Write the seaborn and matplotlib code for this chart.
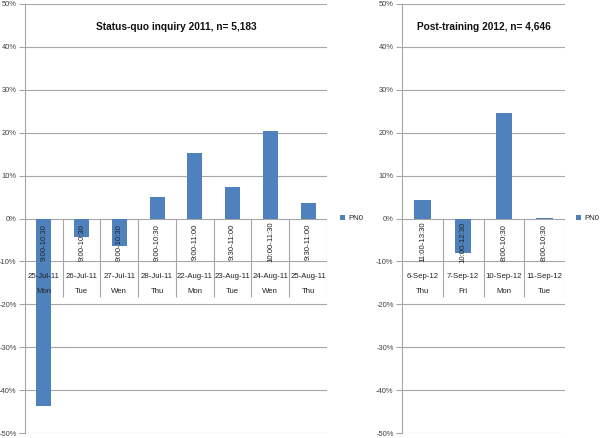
import numpy as np
import pandas as pd
import matplotlib
matplotlib.use("Agg")
import matplotlib.pyplot as plt
import seaborn as sns

# ---- data ----
dates_2011 = ["25-Jul-11", "26-Jul-11", "27-Jul-11", "28-Jul-11",
              "22-Aug-11", "23-Aug-11", "24-Aug-11", "25-Aug-11"]
days_2011 = ["Mon", "Tue", "Wen", "Thu", "Mon", "Tue", "Wen", "Thu"]
times_2011 = ["9:00-10:30", "9:00-10:30", "9:00-10:30", "9:00-10:30",
              "9:00-11:00", "9:30-11:00", "10:00-11:30", "9:30-11:00"]
pn0_2011 = [-43.8, -4.3, -6.3, 5.0, 15.2, 7.4, 20.5, 3.5]

dates_2012 = ["6-Sep-12", "7-Sep-12", "10-Sep-12", "11-Sep-12"]
days_2012 = ["Thu", "Fri", "Mon", "Tue"]
times_2012 = ["11:00-13:30", "10:00-12:30", "8:00-10:30", "8:00-10:30"]
pn0_2012 = [4.3, -8.1, 24.7, 0.2]

titles = ["Status-quo inquiry 2011, n= 5,183", "Post-training 2012, n= 4,646"]
yticks = [50, 40, 30, 20, 10, 0, -10, -20, -30, -40, -50]
series_name = "PN0"

sns.set_theme(style="white")
plt.rcParams['font.family'] = ['Liberation Sans', 'DejaVu Sans']

W, H = 600, 438
fig = plt.figure(figsize=(W / 100, H / 100), dpi=100)

BAR = "#4F81BD"
GRID = "#a6a6a6"
FS = 5.6

def panel(rect_px, dates, days, times, vals, title, legend_x_px):
    l, r, t, b = rect_px
    ax = fig.add_axes([l / W, 1 - b / H, (r - l) / W, (b - t) / H])
    df = pd.DataFrame({"date": dates, "val": vals})
    sns.barplot(data=df, x="date", y="val", color=BAR, width=0.4,
                saturation=1, ax=ax, label=series_name, linewidth=0)
    n = len(dates)
    ax.set_xlim(-0.5, n - 0.5)
    ax.set_ylim(-50, 50)
    ax.set_yticks(yticks)
    ax.set_yticklabels([f"{v}%" for v in yticks], fontsize=5.4, color="#404040")
    ax.set_xticks([])
    ax.set_xlabel("")
    ax.set_ylabel("")
    for s in ["top", "right", "bottom"]:
        ax.spines[s].set_visible(False)
    ax.spines["left"].set_color(GRID)
    ax.spines["left"].set_linewidth(0.8)
    ax.tick_params(axis="y", direction="out", length=4, width=0.8, color=GRID, pad=2, left=True)
    for v in yticks:
        ax.axhline(v, color=GRID, lw=0.8, zorder=0)
    ax.vlines(np.arange(1, n + 1) - 0.5, -18.2, 0, color=GRID, lw=0.8, zorder=0)
    for i in range(n):
        ax.text(i, -5.5, times[i], rotation=90, ha="center", va="center",
                fontsize=FS, color="#222222", zorder=5)
        ax.text(i, -13.5, dates[i], ha="center", va="center", fontsize=FS, color="#222222")
        ax.text(i, -17.1, days[i], ha="center", va="center", fontsize=FS, color="#222222")
    ax.text(0.5, 0.946, title, transform=ax.transAxes, ha="center", va="center",
            fontsize=7.3, fontweight="bold", color="#111111")
    lx = (legend_x_px - l) / (r - l)
    ax.legend(loc="center left", bbox_to_anchor=(lx, 0.5), frameon=False,
              fontsize=FS, handlelength=0.7, handleheight=0.7, handletextpad=0.4,
              borderpad=0, borderaxespad=0)
    return ax

panel((25, 327, 4, 433), dates_2011, days_2011, times_2011, pn0_2011, titles[0], 340)
panel((402, 565, 4, 433), dates_2012, days_2012, times_2012, pn0_2012, titles[1], 576)

fig.savefig("out.png", dpi=100)
